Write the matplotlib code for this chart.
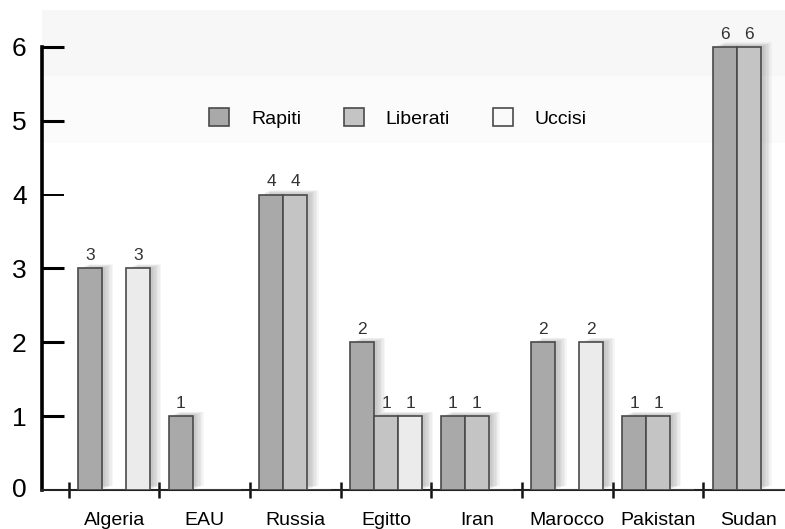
import numpy as np
import matplotlib
matplotlib.use("Agg")
import matplotlib.pyplot as plt
import matplotlib.patheffects as pe

plt.rcParams["font.family"] = ["Liberation Sans", "DejaVu Sans"]

# Sequestri per paese
paesi = ["Algeria", "EAU", "Russia", "Egitto", "Iran", "Marocco", "Pakistan", "Sudan"]
rapiti = [3, 1, 4, 2, 1, 2, 1, 6]
liberati = [0, 0, 4, 1, 1, 0, 1, 6]
uccisi = [3, 0, 0, 1, 0, 2, 0, 0]

serie = [("Rapiti", rapiti, "#a9a9a9"),
         ("Liberati", liberati, "#c4c4c4"),
         ("Uccisi", uccisi, "#ebebeb")]

fig = plt.figure(figsize=(7.85, 5.29), dpi=100)
ax = fig.add_axes([42 / 785, 39 / 529, 1 - 42 / 785, 480 / 529])

# faint band at the top of the plot
ax.axhspan(5.6, 6.5, color="#f7f7f7", zorder=0, lw=0)
ax.axhspan(4.7, 5.6, color="#fbfbfb", zorder=0, lw=0)

x = np.arange(len(paesi))
w = 0.265
shadow = [pe.SimplePatchShadow(offset=(k, k * 0.4), shadow_rgbFace="#808080", alpha=0.07)
          for k in range(2, 9)] + [pe.Normal()]

for j, (nome, vals, col) in enumerate(serie):
    xs = x + (j - 1) * w
    bars = ax.bar(xs, vals, w, color=col, edgecolor="#4a4a4a", linewidth=1.2,
                  label=nome, zorder=3)
    for b, v in zip(bars, vals):
        if v > 0:
            b.set_path_effects(shadow)
            ax.text(b.get_x() + w / 2, v + 0.07, str(v), ha="center", va="bottom",
                    fontsize=12.5, color="#333333", zorder=4)

ax.set_xlim(-0.795, 7.4)
ax.set_ylim(0, 6.5)

for s in ["top", "right"]:
    ax.spines[s].set_visible(False)
ax.spines["left"].set_linewidth(2.6)
ax.spines["left"].set_bounds(0, 6)
ax.spines["bottom"].set_linewidth(1.5)
ax.spines["bottom"].set_color("#222222")

ax.set_yticks(range(1, 7))
ax.tick_params(axis="y", direction="in", length=16, width=2.2, pad=11, labelsize=19)
ax.yaxis.get_major_ticks()[3].tick1line.set_markeredgewidth(1.4)
ax.text(-0.795 - 15 / 90.6, 0, "0", ha="right", va="center", fontsize=19)

ax.set_xticks(x)
ax.set_xticklabels(paesi)
ax.tick_params(axis="x", length=0, pad=16, labelsize=14)
ax.set_xticks(x - 0.5, minor=True)
ax.tick_params(axis="x", which="minor", direction="inout", length=12, width=1.8, color="#111111")

leg = ax.legend(loc="center", bbox_to_anchor=(0.507, 0.777), bbox_transform=fig.transFigure,
                ncol=3, frameon=False, fontsize=14, handlelength=1.03, handleheight=1.03,
                handletextpad=1.13, columnspacing=2.2)
for h in leg.legend_handles:
    h.set_path_effects([])
leg.legend_handles[2].set_facecolor("#fafafa")

fig.savefig("out.png", dpi=100)
